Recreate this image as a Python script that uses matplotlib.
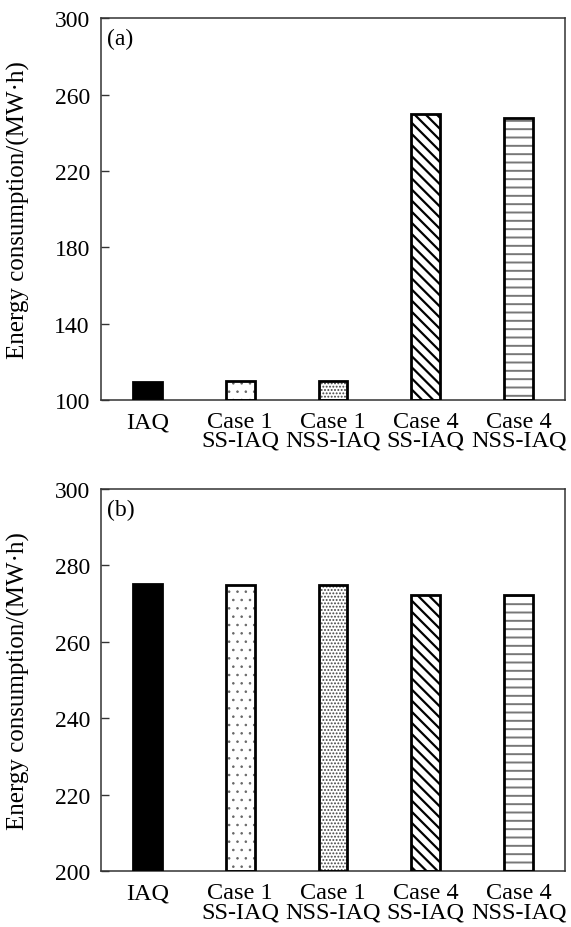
import matplotlib
matplotlib.use('Agg')
import matplotlib.pyplot as plt

# categories shared by both panels
categories = ['IAQ', 'Case 1\nSS-IAQ', 'Case 1\nNSS-IAQ', 'Case 4\nSS-IAQ', 'Case 4\nNSS-IAQ']

# energy consumption (MW·h)
values_a = [109.6, 110.3, 110.0, 249.7, 247.8]
values_b = [275.2, 274.95, 274.8, 272.35, 272.3]

yticks_a = [100, 140, 180, 220, 260, 300]
yticks_b = [200, 220, 240, 260, 280, 300]

hatches = ['', '..', '.....', '\\\\\\', '--']
hatch_colors = ['black', '#666666', '#444444', 'black', '#777777']
hatch_widths = [1.0, 0.6, 0.9, 1.6, 1.4]
colors = ['black', 'white', 'white', 'white', 'white']

plt.rcParams['font.family'] = ['Liberation Serif', 'DejaVu Serif']

fig = plt.figure(figsize=(5.71, 9.28), dpi=100)
ax_a = fig.add_axes([0.1769, 0.5676, 0.8126, 0.4116])
ax_b = fig.add_axes([0.1769, 0.0600, 0.8126, 0.4120])


def draw_panel(ax, values, yticks, tag):
    x = list(range(len(categories)))
    for i in x:
        # fill + hatch first, then the black outline on top
        with plt.rc_context({'hatch.linewidth': hatch_widths[i]}):
            ax.bar(i, values[i] - yticks[0], bottom=yticks[0], width=0.31,
                   color=colors[i], edgecolor=hatch_colors[i], linewidth=0,
                   hatch=hatches[i], zorder=2)
        ax.bar(i, values[i] - yticks[0], bottom=yticks[0], width=0.31,
               fill=False, edgecolor='black', linewidth=2.0, zorder=3)
    ax.set_xlim(-0.5, len(categories) - 0.5)
    ax.set_ylim(yticks[0], yticks[-1])
    ax.set_yticks(yticks)
    ax.set_xticks(x)
    ax.set_xticklabels(categories, fontsize=17.5, linespacing=0.85)
    ax.tick_params(axis='x', length=0, pad=8)
    ax.tick_params(axis='y', direction='in', length=6, width=1.0,
                   labelsize=17, pad=8, color='#333333')
    for s in ax.spines.values():
        s.set_linewidth(1.1)
        s.set_color('#333333')
    ax.set_ylabel('Energy consumption/(MW·h)', fontsize=18)
    ax.yaxis.set_label_coords(-0.153, 0.5)
    ax.text(0.013, 0.975, tag, transform=ax.transAxes, va='top', ha='left',
            fontsize=17)


draw_panel(ax_a, values_a, yticks_a, '(a)')
draw_panel(ax_b, values_b, yticks_b, '(b)')

fig.savefig('out.png', dpi=100)
